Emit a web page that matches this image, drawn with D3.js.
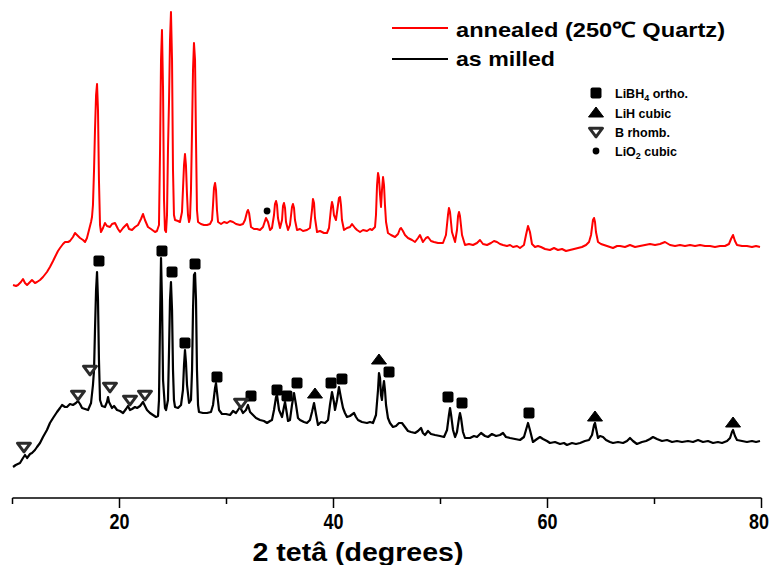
<!DOCTYPE html>
<html><head><meta charset="utf-8">
<script src="https://cdn.jsdelivr.net/npm/d3@7"></script>
<style>body{margin:0;background:#fff}svg{display:block}text{font-family:"Liberation Sans",Arial,sans-serif;font-weight:bold}</style>
</head><body>
<script>
// 2θ (degrees) and intensity (a.u.) pairs
const asMilled = [[10.05,31],[10.3,33],[10.70,35],[10.98,40],[11.17,43],[11.36,40],[11.64,44],[11.82,45],[12.10,48],[12.29,51],[12.57,55],[12.85,61],[13.22,68],[13.50,75],[13.79,80],[14.16,86],[14.44,90],[14.63,93],[14.91,91],[15.09,91],[15.37,94],[15.65,93],[15.93,95],[16.12,97],[16.31,94],[16.50,90],[16.78,89],[17.06,88],[17.34,95],[17.52,113],[17.62,128],[17.71,168],[17.81,208],[17.90,226],[17.99,198],[18.08,138],[18.18,98],[18.36,92],[18.64,91],[18.83,96],[18.93,101],[19.02,96],[19.30,90],[19.49,92],[19.77,88],[20.05,87],[20.33,85],[20.61,89],[20.79,92],[20.98,88],[21.17,89],[21.45,91],[21.64,90],[21.92,92],[22.20,96],[22.38,92],[22.57,88],[22.85,85],[23.13,83],[23.41,81],[23.60,82],[23.69,98],[23.79,178],[23.88,240],[23.97,198],[24.07,118],[24.25,90],[24.35,88],[24.53,98],[24.63,148],[24.72,198],[24.81,216],[24.91,188],[25.00,128],[25.09,98],[25.19,91],[25.47,90],[25.75,93],[25.93,108],[26.03,133],[26.12,148],[26.21,136],[26.31,113],[26.50,95],[26.68,98],[26.78,128],[26.87,188],[26.96,223],[27.06,225],[27.15,198],[27.24,128],[27.34,93],[27.43,86],[27.80,85],[28.18,85],[28.55,86],[28.74,93],[28.93,110],[29.02,115],[29.11,106],[29.30,88],[29.58,84],[29.95,84],[30.33,83],[30.61,87],[30.89,85],[31.26,91],[31.54,85],[31.82,88],[32.01,93],[32.20,86],[32.48,83],[32.76,80],[33.13,78],[33.50,77],[33.79,75],[34.07,77],[34.25,78],[34.44,88],[34.63,101],[34.72,103],[34.91,88],[35.19,81],[35.37,91],[35.47,96],[35.56,90],[35.75,77],[35.93,78],[36.12,93],[36.31,105],[36.50,93],[36.68,80],[36.87,78],[37.24,76],[37.52,75],[37.80,78],[37.99,86],[38.18,95],[38.36,84],[38.55,73],[38.83,76],[39.21,75],[39.49,78],[39.67,93],[39.86,106],[40.04,96],[40.14,88],[40.33,98],[40.51,111],[40.70,100],[40.89,90],[41.07,85],[41.26,81],[41.54,82],[41.92,85],[42.10,81],[42.29,78],[42.66,76],[43.13,75],[43.41,76],[43.69,75],[43.97,83],[44.16,108],[44.25,125],[44.35,120],[44.44,103],[44.53,98],[44.63,110],[44.72,117],[44.81,108],[44.91,93],[45.09,80],[45.28,75],[45.56,71],[45.84,72],[46.12,75],[46.40,75],[46.68,71],[46.96,67],[47.24,66],[47.62,65],[47.90,67],[48.18,70],[48.36,65],[48.55,63],[48.83,67],[49.11,64],[49.49,63],[49.95,62],[50.33,61],[50.61,68],[50.79,83],[50.89,90],[50.98,84],[51.17,68],[51.36,61],[51.54,66],[51.73,80],[51.82,85],[51.92,80],[52.10,66],[52.29,60],[52.76,60],[53.13,62],[53.41,61],[53.79,65],[54.16,62],[54.44,61],[54.81,64],[55.19,62],[55.56,63],[55.84,65],[56.12,61],[56.50,60],[56.96,59],[57.43,58],[57.80,61],[57.99,68],[58.18,75],[58.36,68],[58.64,56],[59.02,59],[59.30,61],[59.58,59],[59.95,57],[60.23,55],[60.70,56],[61.17,54],[61.54,55],[61.82,53],[62.29,55],[62.66,54],[63.04,55],[63.50,57],[63.88,58],[64.16,63],[64.35,73],[64.44,75],[64.53,70],[64.72,60],[64.91,62],[65.19,61],[65.47,58],[65.84,56],[66.12,55],[66.59,56],[67.06,55],[67.43,57],[67.71,60],[67.99,57],[68.36,54],[68.83,56],[69.21,57],[69.58,59],[69.86,61],[70.23,59],[70.70,57],[71.17,58],[71.64,56],[72.10,57],[72.57,56],[73.13,57],[73.60,56],[74.07,58],[74.53,56],[75.00,57],[75.47,55],[75.93,56],[76.31,55],[76.78,57],[77.06,60],[77.24,66],[77.34,68],[77.52,62],[77.71,58],[78.18,57],[78.64,56],[79.11,57],[79.49,56],[79.86,57]];

const annealed = [[10.05,213],[10.33,212],[10.51,213],[10.79,216],[10.98,219],[11.17,215],[11.36,213],[11.64,216],[11.82,218],[12.10,215],[12.29,216],[12.57,218],[12.85,221],[13.22,226],[13.50,231],[13.79,237],[13.97,241],[14.25,247],[14.44,250],[14.72,254],[14.91,256],[15.19,256],[15.37,257],[15.65,261],[15.84,265],[16.03,263],[16.31,260],[16.59,258],[16.78,256],[16.96,260],[17.15,268],[17.34,276],[17.43,281],[17.52,293],[17.62,328],[17.71,368],[17.81,403],[17.90,414],[17.99,388],[18.08,318],[18.18,273],[18.27,266],[18.46,270],[18.64,275],[18.83,272],[19.11,271],[19.30,274],[19.58,275],[19.86,269],[20.05,266],[20.33,270],[20.51,272],[20.70,274],[20.89,269],[21.17,268],[21.45,271],[21.73,273],[22.01,279],[22.20,284],[22.38,278],[22.66,271],[22.94,269],[23.32,266],[23.50,267],[23.69,273],[23.79,348],[23.88,438],[23.97,468],[24.07,408],[24.16,298],[24.25,268],[24.35,266],[24.44,283],[24.53,348],[24.63,398],[24.72,458],[24.81,486],[24.91,438],[25.00,328],[25.09,283],[25.19,278],[25.47,277],[25.65,276],[25.84,286],[25.93,308],[26.03,333],[26.12,344],[26.21,333],[26.31,303],[26.40,283],[26.50,276],[26.59,280],[26.68,308],[26.78,368],[26.87,428],[26.96,455],[27.06,438],[27.15,358],[27.24,288],[27.34,276],[27.61,274],[27.89,273],[28.18,273],[28.46,274],[28.65,278],[28.74,293],[28.83,310],[28.93,315],[29.02,308],[29.11,288],[29.21,276],[29.49,274],[29.77,276],[30.05,275],[30.33,277],[30.61,276],[30.89,274],[31.26,273],[31.54,274],[31.73,278],[31.92,286],[32.01,288],[32.11,285],[32.29,271],[32.57,269],[32.85,269],[33.13,268],[33.41,271],[33.69,280],[33.88,276],[34.07,268],[34.25,270],[34.44,283],[34.53,294],[34.63,297],[34.72,293],[34.81,280],[35.00,270],[35.19,278],[35.28,292],[35.37,295],[35.47,290],[35.56,276],[35.75,268],[35.93,273],[36.12,291],[36.21,294],[36.31,290],[36.40,278],[36.59,268],[36.87,269],[37.15,267],[37.52,268],[37.80,270],[37.99,288],[38.08,299],[38.18,295],[38.27,280],[38.46,266],[38.74,267],[39.11,265],[39.39,265],[39.58,270],[39.77,290],[39.86,296],[39.95,292],[40.04,283],[40.23,278],[40.42,293],[40.51,300],[40.61,301],[40.70,293],[40.79,278],[40.98,268],[41.26,270],[41.54,271],[41.73,274],[42.01,270],[42.20,268],[42.48,266],[42.76,268],[43.13,267],[43.41,269],[43.60,268],[43.88,271],[43.97,283],[44.07,313],[44.16,325],[44.25,320],[44.35,303],[44.44,291],[44.53,308],[44.63,321],[44.72,313],[44.81,293],[44.91,276],[45.09,265],[45.37,263],[45.75,261],[46.03,264],[46.21,269],[46.31,270],[46.49,267],[46.68,263],[46.96,260],[47.34,258],[47.62,256],[47.90,260],[48.08,263],[48.36,256],[48.64,260],[48.83,261],[49.11,257],[49.39,256],[49.77,255],[50.23,255],[50.51,263],[50.70,283],[50.79,290],[50.89,286],[51.07,266],[51.36,256],[51.54,268],[51.64,282],[51.73,286],[51.82,282],[52.01,263],[52.29,253],[52.66,254],[53.04,253],[53.41,255],[53.69,258],[53.97,254],[54.35,253],[54.72,255],[55.00,257],[55.28,256],[55.56,254],[55.84,253],[56.21,252],[56.50,253],[56.78,251],[57.15,252],[57.43,250],[57.80,253],[57.99,263],[58.18,272],[58.36,266],[58.55,254],[58.83,251],[59.11,252],[59.39,251],[59.77,249],[60.23,248],[60.61,250],[60.98,248],[61.36,249],[61.73,247],[62.10,248],[62.48,249],[62.85,250],[63.22,251],[63.60,253],[63.88,256],[64.07,263],[64.25,278],[64.35,280],[64.44,276],[64.53,266],[64.72,256],[65.00,254],[65.28,253],[65.56,252],[65.84,251],[66.12,250],[66.50,252],[66.78,252],[67.24,251],[67.71,253],[68.18,251],[68.64,252],[69.11,253],[69.58,254],[70.05,253],[70.51,254],[70.98,256],[71.45,253],[71.92,252],[72.38,253],[72.85,252],[73.32,253],[73.79,252],[74.25,253],[74.72,252],[75.19,252],[75.65,251],[76.12,252],[76.59,252],[76.96,254],[77.15,259],[77.34,263],[77.52,257],[77.71,253],[78.18,252],[78.64,252],[79.11,251],[79.49,252],[79.86,251]];

// phase markers [2θ, intensity]
const libh4Marks = [[18.08,237],[23.97,247],[24.91,226],[27.06,234],[26.12,155],[29.11,121],[32.29,102],[34.72,108],[35.65,102],[36.59,115],[39.77,115],[40.79,119],[45.19,126],[50.70,101],[52.01,95],[58.27,85]];
const lihMarks = [[38.27,104],[44.25,138],[64.44,81],[77.34,75]];
const bMarks = [[11.07,51],[16.12,103],[17.24,128],[19.11,111],[20.98,98],[22.38,103],[31.36,95]];
const lio2Marks = [[33.79,287]];

const majorTicks = [20,40,60,80];
const minorTicks = [10,30,50,70];
const seriesNames = ["annealed (250\u2103 Quartz)","as milled"];
const phaseNames = ["LiBH","LiH cubic","B rhomb.","LiO"];

const W=772,H=565;
const svg=d3.select("body").append("svg").attr("width",W).attr("height",H);
const x=d3.scaleLinear().domain([10,80]).range([12.5,761.5]);
const y=d3.scaleLinear().domain([0,490]).range([498,8]);

const line=d3.line().x(d=>x(d[0])).y(d=>y(d[1]));
svg.append("path").datum(annealed).attr("d",line).attr("fill","none").attr("stroke","#ff0000").attr("stroke-width",2).attr("stroke-linejoin","round");
svg.append("path").datum(asMilled).attr("d",line).attr("fill","none").attr("stroke","#000").attr("stroke-width",2.2).attr("stroke-linejoin","round");

// marker shapes
function sq(g){g.append("rect").attr("x",-5.5).attr("y",-5.5).attr("width",11).attr("height",11).attr("rx",2).attr("fill","#000");}
function triUp(g){g.append("path").attr("d","M0,-6 L7.5,4 L-7.5,4 Z").attr("fill","#000").attr("stroke","#000").attr("stroke-width",1).attr("stroke-linejoin","round");}
function triDown(g){g.append("path").attr("d","M-6.5,-3.8 L6.5,-3.8 L0,4.8 Z").attr("fill","#fff").attr("stroke","#2b2b2b").attr("stroke-width",3).attr("stroke-linejoin","round");}
function dot(g){g.append("circle").attr("r",3.4).attr("fill","#000");}

function drawMarks(data,fn){
  svg.append("g").selectAll("g").data(data).join("g")
    .attr("transform",d=>`translate(${x(d[0])},${y(d[1])})`).each(function(){fn(d3.select(this));});
}
drawMarks(libh4Marks,sq);
drawMarks(lihMarks,triUp);
drawMarks(bMarks,triDown);
drawMarks(lio2Marks,dot);

// axis
const ax=svg.append("g").attr("transform","translate(0,498)");
ax.append("line").attr("x1",x(10)).attr("x2",x(80)).attr("stroke","#000").attr("stroke-width",1.5);
ax.selectAll(".maj").data(majorTicks).join("line").attr("x1",d=>x(d)).attr("x2",d=>x(d)).attr("y1",0).attr("y2",10).attr("stroke","#000").attr("stroke-width",1.5);
ax.selectAll(".min").data(minorTicks).join("line").attr("x1",d=>x(d)).attr("x2",d=>x(d)).attr("y1",0).attr("y2",6).attr("stroke","#000").attr("stroke-width",1.5);
ax.selectAll("text").data(majorTicks).join("text").attr("x",d=>Math.min(x(d),W-13)).attr("y",31).attr("text-anchor","middle").attr("font-size",22).attr("textLength",20).attr("lengthAdjust","spacingAndGlyphs").text(d=>d);
svg.append("text").attr("x",358).attr("y",561).attr("text-anchor","middle").attr("font-size",25).attr("textLength",211).attr("lengthAdjust","spacingAndGlyphs").text("2 tet\u00e2 (degrees)");

// series legend
const lg=svg.append("g");
lg.append("line").attr("x1",392).attr("x2",448).attr("y1",28).attr("y2",28).attr("stroke","#ff0000").attr("stroke-width",2);
lg.append("line").attr("x1",392).attr("x2",448).attr("y1",59).attr("y2",59).attr("stroke","#000").attr("stroke-width",2);
lg.append("text").attr("x",456).attr("y",37).attr("font-size",21).attr("textLength",269).attr("lengthAdjust","spacingAndGlyphs").text(seriesNames[0]);
lg.append("text").attr("x",456).attr("y",66).attr("font-size",21).attr("textLength",99).attr("lengthAdjust","spacingAndGlyphs").text(seriesNames[1]);

// phase legend
const pl=svg.append("g").attr("font-size",12.5);
const rows=[93,113,132,151];
[sq,triUp,triDown,dot].forEach((fn,i)=>{const g=pl.append("g").attr("transform",`translate(596,${rows[i]})`);fn(g);});
const t0=pl.append("text").attr("x",615).attr("y",rows[0]+5);
t0.append("tspan").text(phaseNames[0]);t0.append("tspan").attr("font-size",9).attr("dy",3).text("4");t0.append("tspan").attr("dy",-3).text(" ortho.");
pl.append("text").attr("x",615).attr("y",rows[1]+5).text(phaseNames[1]);
pl.append("text").attr("x",615).attr("y",rows[2]+5).text(phaseNames[2]);
const t3=pl.append("text").attr("x",615).attr("y",rows[3]+5);
t3.append("tspan").text(phaseNames[3]);t3.append("tspan").attr("font-size",9).attr("dy",3).text("2");t3.append("tspan").attr("dy",-3).text(" cubic");
</script>
</body></html>
